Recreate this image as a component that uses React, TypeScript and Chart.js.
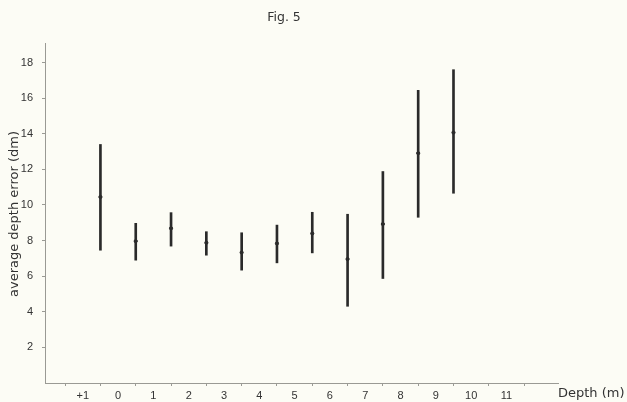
import React, { useEffect, useRef } from "react";
import { Chart, registerables } from "chart.js";

Chart.register(...registerables);

const depthMid = [-0.5, 0.5, 1.5, 2.5, 3.5, 4.5, 5.5, 6.5, 7.5, 8.5, 9.5];
const meanError = [10.45, 7.97, 8.69, 7.88, 7.33, 7.84, 8.4, 6.96, 8.93, 12.91, 14.07];
const lowError = [7.46, 6.9, 7.69, 7.18, 6.34, 6.75, 7.31, 4.31, 5.87, 9.31, 10.66];
const highError = [13.4, 8.97, 9.57, 8.5, 8.44, 8.87, 9.59, 9.48, 11.88, 16.44, 17.6];
const xTickValues = [-1, 0, 1, 2, 3, 4, 5, 6, 7, 8, 9, 10, 11];
const xTickLabels = ["+1", "0", "1", "2", "3", "4", "5", "6", "7", "8", "9", "10", "11"];
const yTickValues = [2, 4, 6, 8, 10, 12, 14, 16, 18];

const FONT = "'Liberation Sans', Arial, sans-serif";
const TITLE_FONT = "'DejaVu Sans', sans-serif";
const INK = "#2a2a2a";
const AXIS = "#9a9a94";
const BG = "#fcfcf5";

const decorPlugin = {
  id: "decor",
  beforeDraw(chart: any) {
    const { ctx, width, height } = chart;
    ctx.save();
    ctx.fillStyle = BG;
    ctx.fillRect(0, 0, width, height);
    ctx.restore();
  },
  afterDraw(chart: any) {
    const { ctx } = chart;
    ctx.save();
    ctx.fillStyle = "#333";
    ctx.font = `12.5px ${TITLE_FONT}`;
    ctx.textAlign = "center";
    ctx.textBaseline = "middle";
    ctx.fillText("Fig. 5", 284, 18);
    ctx.font = `13px ${TITLE_FONT}`;
    ctx.textAlign = "left";
    ctx.fillText("Depth (m)", 558, 394);
    ctx.translate(15, 214);
    ctx.rotate(-Math.PI / 2);
    ctx.textAlign = "center";
    ctx.fillText("average depth error (dm)", 0, 0);
    ctx.restore();
  },
};

export default function App() {
  const ref = useRef<HTMLCanvasElement | null>(null);
  useEffect(() => {
    if (!ref.current) return;
    const chart = new Chart(ref.current, {
      type: "bar",
      data: {
        datasets: [
          {
            type: "bar",
            data: depthMid.map((x, i) => ({ x, y: [lowError[i], highError[i]] })) as any,
            backgroundColor: INK,
            borderWidth: 0,
            barThickness: 2,
            grouped: false,
          } as any,
          {
            type: "scatter",
            data: depthMid.map((x, i) => ({ x, y: meanError[i] })),
            backgroundColor: INK,
            borderColor: INK,
            pointRadius: 1.6,
            pointHoverRadius: 1.6,
          } as any,
        ],
      },
      options: {
        animation: false,
        responsive: false,
        maintainAspectRatio: false,
        layout: { padding: { top: 43, right: 69, left: 0, bottom: 0 } },
        plugins: { legend: { display: false }, tooltip: { enabled: false }, title: { display: false } },
        scales: {
          x: {
            type: "linear",
            min: -2.07,
            max: 12.46,
            offset: false,
            afterBuildTicks: (scale: any) => {
              scale.ticks = xTickValues.map((v) => ({ value: v }));
            },
            afterFit: (scale: any) => {
              scale.height = 19;
            },
            ticks: {
              autoSkip: false,
              maxRotation: 0,
              padding: 3,
              color: "#333",
              font: { family: FONT, size: 11 },
              callback: (v: any) => {
                const i = xTickValues.indexOf(Number(v));
                return i >= 0 ? xTickLabels[i] : "";
              },
            },
            grid: { drawOnChartArea: false, drawTicks: true, tickLength: 3, color: AXIS },
            border: { display: true, color: AXIS, width: 1 },
          },
          y: {
            type: "linear",
            min: 0,
            max: 19.1,
            afterBuildTicks: (scale: any) => {
              scale.ticks = yTickValues.map((v) => ({ value: v }));
            },
            afterFit: (scale: any) => {
              scale.width = 45;
            },
            ticks: {
              padding: 9,
              color: "#333",
              font: { family: FONT, size: 11 },
            },
            grid: { drawOnChartArea: false, drawTicks: true, tickLength: 3, color: AXIS },
            border: { display: true, color: AXIS, width: 1 },
          },
        },
      },
      plugins: [decorPlugin],
    } as any);
    return () => chart.destroy();
  }, []);
  return (
    <div style={{ position: "fixed", left: 0, top: 0, width: 627, height: 402 }}>
      <canvas ref={ref} width={627} height={402} style={{ width: 627, height: 402, display: "block" }} />
    </div>
  );
}
